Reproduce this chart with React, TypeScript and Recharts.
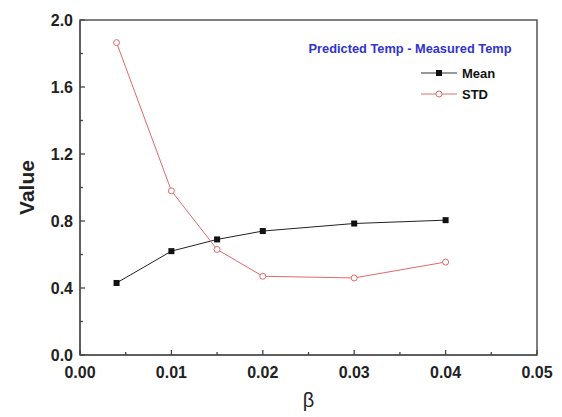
import React from 'react';
import {
  LineChart,
  Line,
  XAxis,
  YAxis,
  Legend,
  Label,
  ReferenceArea,
} from 'recharts';

const betas = [0.004, 0.01, 0.015, 0.02, 0.03, 0.04];
const meanValues = [0.43, 0.62, 0.69, 0.74, 0.785, 0.805];
const stdValues = [1.865, 0.98, 0.63, 0.47, 0.46, 0.555];

const xTicks = [0, 0.005, 0.01, 0.015, 0.02, 0.025, 0.03, 0.035, 0.04, 0.045, 0.05];
const yTicks = [0, 0.2, 0.4, 0.6, 0.8, 1.0, 1.2, 1.4, 1.6, 1.8, 2.0];

const legendTitle = 'Predicted Temp - Measured Temp';

const AXIS = '#555';
const FONT = 'Arial, "Liberation Sans", sans-serif';

const data = betas.map((b, i) => ({ beta: b, mean: meanValues[i], std: stdValues[i] }));

// ticks point inwards, minor ones are shorter and unlabelled
const XTick = (props: any) => {
  const { x, y, payload } = props;
  const major = Math.round(payload.value * 1000) % 10 === 0;
  return (
    <g>
      <path d={`M${x},${y}V${y - (major ? 5 : 3)}`} stroke="#444" strokeWidth={1.3} fill="none" />
      {major && (
        <text x={x} y={y + 23} textAnchor="middle" fontSize={16} fontWeight="bold" fill="#222" fontFamily={FONT}>
          {payload.value.toFixed(2)}
        </text>
      )}
    </g>
  );
};

const YTick = (props: any) => {
  const { x, y, payload } = props;
  const major = Math.round(payload.value * 10) % 4 === 0;
  return (
    <g>
      <path d={`M${x},${y}H${x + (major ? 5 : 3)}`} stroke="#444" strokeWidth={1.3} fill="none" />
      {major && (
        <text x={x - 7} y={y + 6} textAnchor="end" fontSize={16} fontWeight="bold" fill="#222" fontFamily={FONT}>
          {payload.value.toFixed(1)}
        </text>
      )}
    </g>
  );
};

const SquareDot = (props: any) => {
  const { cx, cy, key } = props;
  return <rect key={key} x={cx - 3} y={cy - 3} width={6} height={6} fill="#111" />;
};

const LegendBox = () => (
  <div style={{ fontFamily: FONT, fontWeight: 'bold' }}>
    <div style={{ color: '#3333cc', fontSize: 12.8, lineHeight: '15px', textAlign: 'center', width: 220 }}>
      {legendTitle}
    </div>
    <div style={{ marginLeft: 121, marginTop: 7, fontSize: 13, color: '#111' }}>
      <div style={{ display: 'flex', alignItems: 'center', height: 21 }}>
        <svg width={36} height={10}>
          <line x1={0} x2={36} y1={5} y2={5} stroke="#333" strokeWidth={1} />
          <rect x={15} y={2} width={6} height={6} fill="#111" />
        </svg>
        <span style={{ marginLeft: 5 }}>Mean</span>
      </div>
      <div style={{ display: 'flex', alignItems: 'center', height: 21 }}>
        <svg width={36} height={10}>
          <line x1={0} x2={36} y1={5} y2={5} stroke="#e06a6a" strokeWidth={1} />
          <circle cx={18} cy={5} r={3} fill="#fff" stroke="#e06a6a" />
        </svg>
        <span style={{ marginLeft: 5 }}>STD</span>
      </div>
    </div>
  </div>
);

export default function App() {
  return (
    <div style={{ position: 'absolute', left: 0, top: 0, background: '#fff' }}>
      <LineChart width={562} height={417} data={data} margin={{ top: 20, right: 25, bottom: 0, left: 0 }}>
        <ReferenceArea x1={0} x2={0.05} y1={0} y2={2} fill="none" stroke={AXIS} strokeWidth={1.5} />
        <XAxis
          type="number"
          dataKey="beta"
          domain={[0, 0.05]}
          ticks={xTicks}
          interval={0}
          tickSize={0}
          tickMargin={0}
          tickLine={false}
          tick={<XTick />}
          height={62}
          axisLine={{ stroke: AXIS, strokeWidth: 1.5 }}
        >
          <Label value="β" position="insideBottom" offset={10} style={{ fontSize: 20, fill: '#222', fontFamily: FONT }} />
        </XAxis>
        <YAxis
          type="number"
          domain={[0, 2]}
          ticks={yTicks}
          interval={0}
          tickSize={0}
          tickMargin={0}
          tickLine={false}
          tick={<YTick />}
          width={80}
          axisLine={{ stroke: AXIS, strokeWidth: 1.5 }}
        >
          <Label
            value="Value"
            angle={-90}
            position="insideLeft"
            offset={27}
            style={{ fontSize: 21, fontWeight: 'bold', fill: '#222', fontFamily: FONT, textAnchor: 'middle' }}
          />
        </YAxis>
        <Legend
          layout="vertical"
          align="center"
          verticalAlign="middle"
          content={<LegendBox />}
          wrapperStyle={{ position: 'absolute', left: 300, top: 40.5, width: 220 }}
        />
        <Line
          type="linear"
          dataKey="mean"
          name="Mean"
          stroke="#222"
          strokeWidth={1}
          dot={<SquareDot />}
          isAnimationActive={false}
        />
        <Line
          type="linear"
          dataKey="std"
          name="STD"
          stroke="#e06a6a"
          strokeWidth={1}
          dot={{ r: 3, fill: '#fff', stroke: '#e06a6a', strokeWidth: 1 }}
          isAnimationActive={false}
        />
      </LineChart>
    </div>
  );
}
